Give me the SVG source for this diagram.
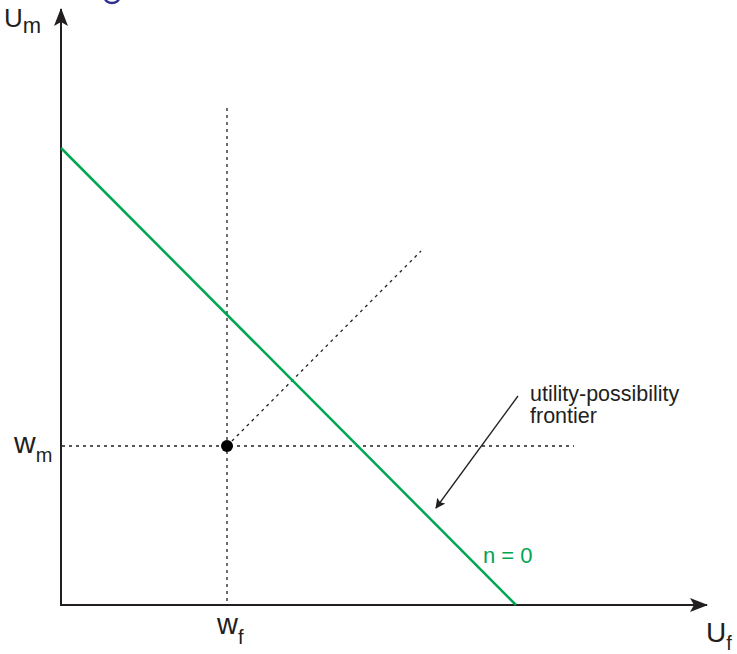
<svg xmlns="http://www.w3.org/2000/svg" width="737" height="654" viewBox="0 0 737 654">
<style>
.t{font-family:"Liberation Sans",Arial,sans-serif;fill:#231f20}
.dot{stroke:#231f20;stroke-width:1.3;stroke-dasharray:3 4;fill:none}
.ax{stroke:#231f20;stroke-width:2;fill:none}
</style>
<defs>
<marker id="ah" markerWidth="10" markerHeight="10" refX="9" refY="5" orient="auto" markerUnits="userSpaceOnUse" viewBox="0 0 10 10">
<path d="M0,0 L10,5 L0,10 L2,5 Z" fill="#231f20"/>
</marker>
<marker id="big" markerWidth="18" markerHeight="14" refX="17" refY="7" orient="auto" markerUnits="userSpaceOnUse" viewBox="0 0 18 14">
<path d="M0,0 L18,7 L0,14 L4,7 Z" fill="#231f20"/>
</marker>
</defs>
<g id="decor">
<path d="M105,-2 A7,5 0 0 0 119,-2" stroke="#2e3192" stroke-width="2.5" fill="none"/>
</g>
<g id="connectors">
<line class="ax" x1="61" y1="606" x2="61" y2="9" marker-end="url(#big)"/>
<line class="ax" x1="60" y1="605" x2="707" y2="605" marker-end="url(#big)"/>
<line class="dot" x1="227" y1="108" x2="227" y2="604"/>
<line class="dot" x1="62" y1="446" x2="574" y2="446"/>
<line class="dot" x1="227" y1="446" x2="421" y2="251"/>
<line x1="61" y1="148" x2="516" y2="605" stroke="#00a651" stroke-width="2.5"/>
<line x1="518" y1="396" x2="436" y2="508" stroke="#231f20" stroke-width="1.3" marker-end="url(#ah)"/>
</g>
<g id="point">
<circle cx="227" cy="446" r="6" fill="#000"/>
</g>
<g id="labels">
<text class="t" x="4" y="27" font-size="26">U<tspan font-size="22" dy="6">m</tspan></text>
<text class="t" x="14" y="453" font-size="30">w<tspan font-size="20" dy="9">m</tspan></text>
<text class="t" x="217" y="634" font-size="29">w<tspan font-size="20" dy="10">f</tspan></text>
<text class="t" x="706" y="642" font-size="28">U<tspan font-size="20" dy="8">f</tspan></text>
<text class="t" x="530" y="401" font-size="21.5">utility-possibility</text>
<text class="t" x="530" y="423" font-size="21.5">frontier</text>
<text x="483" y="563" font-size="22" font-family="Liberation Sans,Arial,sans-serif" fill="#00a651">n = 0</text>
</g>
</svg>
